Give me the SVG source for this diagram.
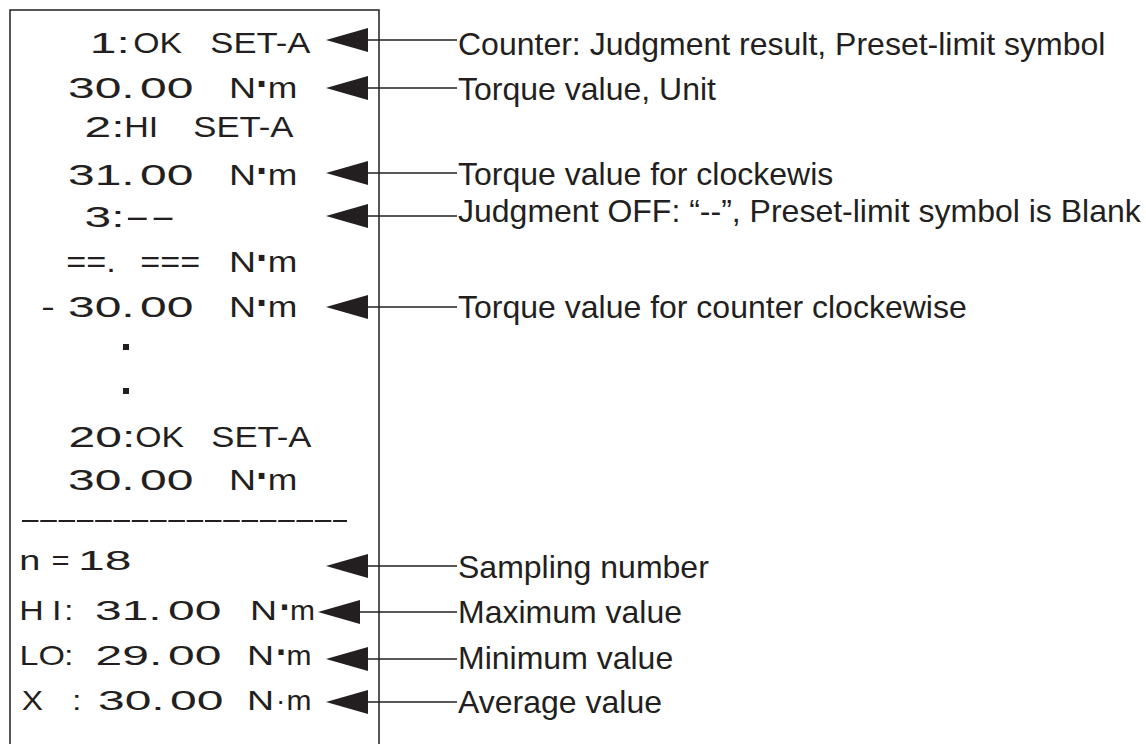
<svg xmlns="http://www.w3.org/2000/svg" width="1146" height="744" viewBox="0 0 1146 744">
<style>
.pr{font-family:"Liberation Sans",Arial,sans-serif;font-size:30px;fill:#231f20}
.pr2{font-family:"Liberation Sans",Arial,sans-serif;font-size:28px;fill:#231f20}
.dot{font-size:40px;font-weight:bold}
.dot2{font-size:36px;font-weight:bold}
.lbl{font-family:"Liberation Sans",Arial,sans-serif;font-size:32px;fill:#231f20}
.lead{stroke:#231f20;stroke-width:1.5;fill:none}
.box{stroke:#231f20;stroke-width:1.5;fill:none}
.ah{fill:#231f20}
</style>
<defs>
<polygon id="ah" class="ah" points="0,0 42,-12 42,12"/>
</defs>
<rect width="1146" height="744" fill="#ffffff"/>
<g id="printout">
<path class="box" d="M10,744 V10 H379 V744"/>
<g id="row1"><text class="pr" y="53"><tspan x="89.8" textLength="40" lengthAdjust="spacingAndGlyphs">1:</tspan><tspan x="133.3" textLength="48.8" lengthAdjust="spacingAndGlyphs">OK</tspan> <tspan x="210.3" textLength="100.1" lengthAdjust="spacingAndGlyphs">SET-A</tspan></text></g>
<g id="row2"><text class="pr" y="98"><tspan x="68" textLength="66.7" lengthAdjust="spacingAndGlyphs">30.</tspan> <tspan x="140" textLength="53.4" lengthAdjust="spacingAndGlyphs">00</tspan> <tspan x="229" textLength="27.1" lengthAdjust="spacingAndGlyphs">N</tspan><tspan class="dot" x="256">·</tspan><tspan x="267.7" textLength="29.6" lengthAdjust="spacingAndGlyphs">m</tspan></text></g>
<g id="row3"><text class="pr" y="137"><tspan x="84.6" textLength="40" lengthAdjust="spacingAndGlyphs">2:</tspan><tspan x="124.3" textLength="34" lengthAdjust="spacingAndGlyphs">HI</tspan> <tspan x="193.3" textLength="100.1" lengthAdjust="spacingAndGlyphs">SET-A</tspan></text></g>
<g id="row4"><text class="pr" y="185"><tspan x="68" textLength="66.7" lengthAdjust="spacingAndGlyphs">31.</tspan> <tspan x="140" textLength="53.4" lengthAdjust="spacingAndGlyphs">00</tspan> <tspan x="229" textLength="27.1" lengthAdjust="spacingAndGlyphs">N</tspan><tspan class="dot" x="256">·</tspan><tspan x="267.7" textLength="29.6" lengthAdjust="spacingAndGlyphs">m</tspan></text></g>
<g id="row5"><text class="pr" y="227"><tspan x="84.6" textLength="40" lengthAdjust="spacingAndGlyphs">3:</tspan><tspan x="124.6" textLength="51.3" lengthAdjust="spacingAndGlyphs">--</tspan></text></g>
<g id="row6"><text class="pr" y="272"><tspan x="66.3" textLength="49.5" lengthAdjust="spacingAndGlyphs">==.</tspan><tspan x="140.3" textLength="59.9" lengthAdjust="spacingAndGlyphs">===</tspan><tspan x="229" textLength="27.1" lengthAdjust="spacingAndGlyphs">N</tspan><tspan class="dot" x="256">·</tspan><tspan x="267.7" textLength="29.6" lengthAdjust="spacingAndGlyphs">m</tspan></text></g>
<g id="row7"><text class="pr" y="317"><tspan x="41.2" textLength="13.5" lengthAdjust="spacingAndGlyphs">-</tspan><tspan x="68" textLength="66.7" lengthAdjust="spacingAndGlyphs">30.</tspan> <tspan x="140" textLength="53.4" lengthAdjust="spacingAndGlyphs">00</tspan> <tspan x="229" textLength="27.1" lengthAdjust="spacingAndGlyphs">N</tspan><tspan class="dot" x="256">·</tspan><tspan x="267.7" textLength="29.6" lengthAdjust="spacingAndGlyphs">m</tspan></text></g>
<g id="ellipsis"><rect class="ah" x="123" y="344" width="6" height="6"/><rect class="ah" x="123" y="388" width="6" height="6"/></g>
<g id="row10"><text class="pr" y="447"><tspan x="68.6" textLength="66.7" lengthAdjust="spacingAndGlyphs">20:</tspan><tspan x="135.3" textLength="48.8" lengthAdjust="spacingAndGlyphs">OK</tspan> <tspan x="211.3" textLength="100.1" lengthAdjust="spacingAndGlyphs">SET-A</tspan></text></g>
<g id="row11"><text class="pr" y="490"><tspan x="68" textLength="66.7" lengthAdjust="spacingAndGlyphs">30.</tspan> <tspan x="140" textLength="53.4" lengthAdjust="spacingAndGlyphs">00</tspan> <tspan x="229" textLength="27.1" lengthAdjust="spacingAndGlyphs">N</tspan><tspan class="dot" x="256">·</tspan><tspan x="267.7" textLength="29.6" lengthAdjust="spacingAndGlyphs">m</tspan></text></g>
<g id="separator"><line x1="22" y1="521" x2="347" y2="521" stroke="#231f20" stroke-width="2" stroke-dasharray="16.5 1.8"/></g>
<g id="row-n"><text class="pr2" y="570"><tspan x="19.3" textLength="21.1" lengthAdjust="spacingAndGlyphs">n</tspan> <tspan x="51.4" textLength="18.1" lengthAdjust="spacingAndGlyphs">=</tspan> <tspan x="78" textLength="53.4" lengthAdjust="spacingAndGlyphs">18</tspan></text></g>
<g id="row-hi"><text class="pr2" y="620"><tspan x="19.3" textLength="24.5" lengthAdjust="spacingAndGlyphs">H</tspan><tspan x="52" textLength="9.5" lengthAdjust="spacingAndGlyphs">I</tspan><tspan x="64" textLength="9.5" lengthAdjust="spacingAndGlyphs">:</tspan> <tspan x="95" textLength="66.7" lengthAdjust="spacingAndGlyphs">31.</tspan> <tspan x="168" textLength="53.4" lengthAdjust="spacingAndGlyphs">00</tspan> <tspan x="250" textLength="27.1" lengthAdjust="spacingAndGlyphs">N</tspan><tspan class="dot2" x="279.5">·</tspan><tspan x="290" textLength="25" lengthAdjust="spacingAndGlyphs">m</tspan></text></g>
<g id="row-lo"><text class="pr2" y="665"><tspan x="19.6" textLength="45.4" lengthAdjust="spacingAndGlyphs">LO</tspan><tspan x="64" textLength="9.5" lengthAdjust="spacingAndGlyphs">:</tspan> <tspan x="95.6" textLength="66.7" lengthAdjust="spacingAndGlyphs">29.</tspan> <tspan x="168" textLength="53.4" lengthAdjust="spacingAndGlyphs">00</tspan> <tspan x="247" textLength="27.1" lengthAdjust="spacingAndGlyphs">N</tspan><tspan class="dot2" x="276">·</tspan><tspan x="286.5" textLength="25" lengthAdjust="spacingAndGlyphs">m</tspan></text></g>
<g id="row-x"><text class="pr2" y="710"><tspan x="21.7" textLength="21.3" lengthAdjust="spacingAndGlyphs">X</tspan> <tspan x="72" textLength="9.5" lengthAdjust="spacingAndGlyphs">:</tspan> <tspan x="98" textLength="66.7" lengthAdjust="spacingAndGlyphs">30.</tspan> <tspan x="170" textLength="53.4" lengthAdjust="spacingAndGlyphs">00</tspan> <tspan x="247" textLength="27.1" lengthAdjust="spacingAndGlyphs">N</tspan><tspan x="276">·</tspan><tspan x="286.5" textLength="25" lengthAdjust="spacingAndGlyphs">m</tspan></text></g>
</g>
<g id="connectors">
<use href="#ah" x="326" y="40"/><line class="lead" x1="366" y1="40" x2="457" y2="40"/>
<use href="#ah" x="326" y="88"/><line class="lead" x1="366" y1="88" x2="457" y2="88"/>
<use href="#ah" x="326" y="173"/><line class="lead" x1="366" y1="173" x2="457" y2="173"/>
<use href="#ah" x="326" y="216"/><line class="lead" x1="366" y1="216" x2="457" y2="216"/>
<use href="#ah" x="326" y="307"/><line class="lead" x1="366" y1="307" x2="457" y2="307"/>
<use href="#ah" x="326" y="566"/><line class="lead" x1="366" y1="566" x2="457" y2="566"/>
<use href="#ah" x="318" y="612"/><line class="lead" x1="358" y1="612" x2="457" y2="612"/>
<use href="#ah" x="326" y="659"/><line class="lead" x1="366" y1="659" x2="457" y2="659"/>
<use href="#ah" x="326" y="702"/><line class="lead" x1="366" y1="702" x2="457" y2="702"/>
</g>
<g id="labels">
<g id="lbl-counter"><text class="lbl" x="458" y="55">Counter: Judgment result, Preset-limit symbol</text></g>
<g id="lbl-torque"><text class="lbl" x="458" y="100">Torque value, Unit</text></g>
<g id="lbl-cw"><text class="lbl" x="458" y="185">Torque value for clockewis</text></g>
<g id="lbl-off"><text class="lbl" x="458" y="222">Judgment OFF: “--”, Preset-limit symbol is Blank</text></g>
<g id="lbl-ccw"><text class="lbl" x="458" y="318">Torque value for counter clockewise</text></g>
<g id="lbl-n"><text class="lbl" x="458" y="578">Sampling number</text></g>
<g id="lbl-max"><text class="lbl" x="458" y="623">Maximum value</text></g>
<g id="lbl-min"><text class="lbl" x="458" y="669">Minimum value</text></g>
<g id="lbl-avg"><text class="lbl" x="458" y="713">Average value</text></g>
</g>
</svg>
